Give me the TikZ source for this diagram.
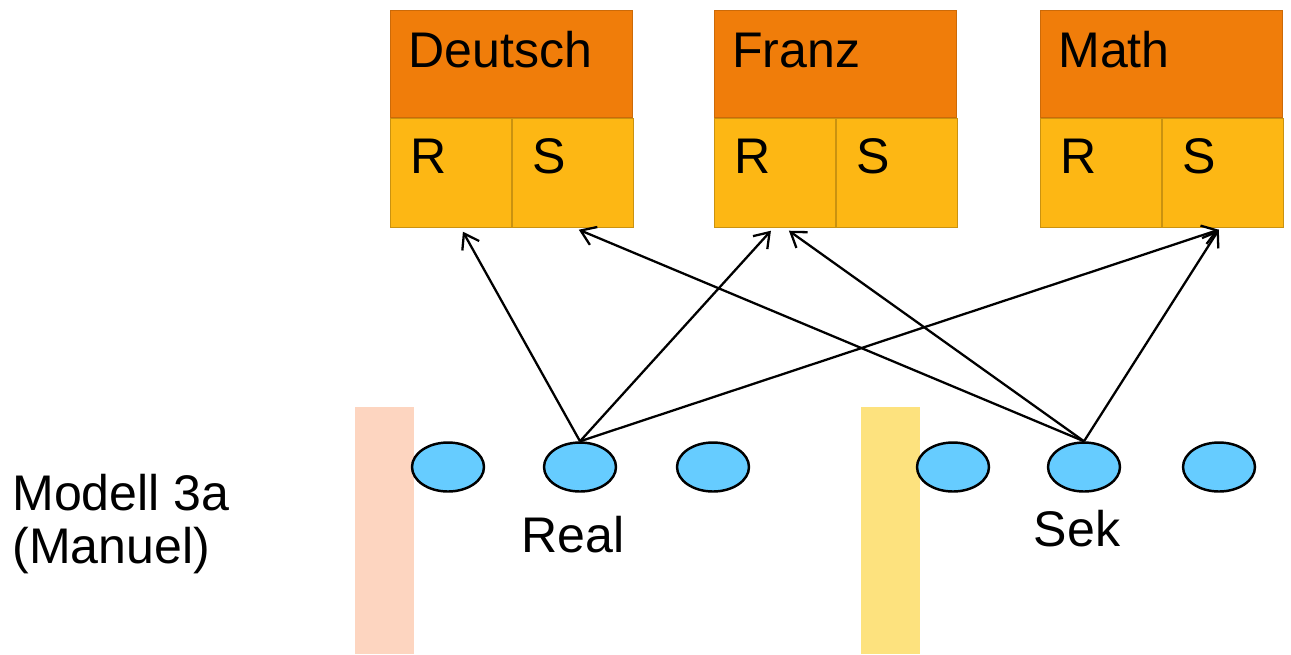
\documentclass[tikz,border=0pt]{standalone}
\usepackage{fontspec}
\setmainfont{Liberation Sans}
\usetikzlibrary{shapes.geometric,arrows.meta,positioning,calc}

\definecolor{subjorange}{HTML}{F07D0A}
\definecolor{cellyellow}{HTML}{FDB714}
\definecolor{pupilblue}{HTML}{66CCFF}
\definecolor{barsalmon}{HTML}{FDD5C0}
\definecolor{baryellow}{HTML}{FDE27E}

\tikzset{
  subjhead/.style={draw=subjorange!85!black, line width=0.5pt, fill=subjorange,
    minimum width=4.84cm, minimum height=2.14cm, inner sep=0pt, anchor=north west},
  cellbox/.style={draw=cellyellow!80!black, line width=0.5pt, fill=cellyellow,
    minimum width=2.42cm, minimum height=2.18cm, inner sep=0pt, anchor=north west},
  pupil/.style={ellipse, draw, line width=1.4pt, fill=pupilblue,
    minimum width=1.44cm, minimum height=0.98cm, inner sep=0pt},
  bigtext/.style={font=\fontsize{28.5}{32}\selectfont, inner sep=0pt},
  link/.style={line width=1.3pt, -{Straight Barb[length=8pt,width=11pt]}}
}

\begin{document}
\begin{tikzpicture}[x=0.02cm, y=-0.02cm]
  \useasboundingbox (0,0) rectangle (1291,654);

  % Bars
  \fill[barsalmon] (355,407) rectangle (414,654);
  \fill[baryellow] (861,407) rectangle (920,654);

  % Subjects with R and S cells
  \foreach \n/\t/\x in {deu/Deutsch/390, fra/Franz/714, mat/Math/1040}{
    \node[subjhead] (\n) at (\x,10) {};
    \node[cellbox] (\n-r) at (\n.south west) {};
    \node[cellbox] (\n-s) at (\n-r.north east) {};
    \node[bigtext, anchor=base west] (\n-t) at ([shift={(18,57)}]\n.north west) {\t};
    \node[bigtext, anchor=base west] (\n-rt) at ([shift={(20,56)}]\n-r.north west) {R};
    \node[bigtext, anchor=base west] (\n-st) at ([shift={(20,56)}]\n-s.north west) {S};
  }

  % Pupils
  \foreach \i/\x in {1/448, 2/580, 3/713, 4/953, 5/1084, 6/1219}
    \node[pupil] (p\i) at (\x,467) {};

  \node[bigtext, anchor=base] (real) at (573,552) {Real};
  \node[bigtext, anchor=base] (sek) at (1077,546) {Sek};

  % Model label
  \node[bigtext, anchor=base west] (modell) at (12,510) {Modell 3a};
  \node[bigtext, anchor=base west] (manuel) at (12,563) {(Manuel)};

  % Arrows
  \draw[link] (p2.north) -- ([shift={(12,4)}]deu-r.south);
  \draw[link] (p2.north) -- ([shift={(-4,3)}]fra-r.south);
  \draw[link] (p2.north) -- ([shift={(-4,2)}]mat-s.south);
  \draw[link] (p5.north) -- ([shift={(6,2)}]deu-s.south);
  \draw[link] (p5.north) -- ([shift={(14,3)}]fra-r.south);
  \draw[link] (p5.north) -- ([shift={(-4,2)}]mat-s.south);
\end{tikzpicture}
\end{document}
